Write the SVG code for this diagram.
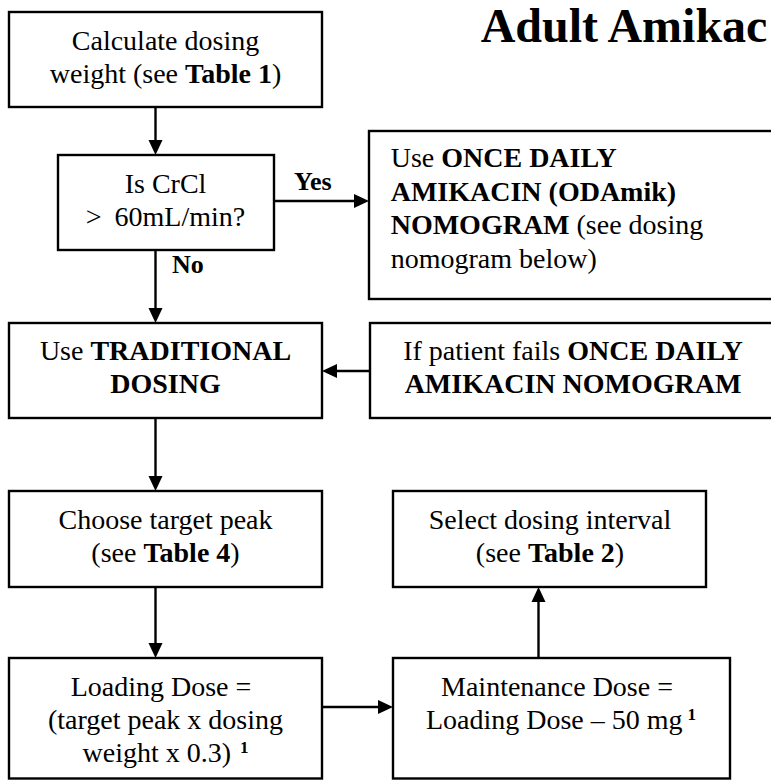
<svg xmlns="http://www.w3.org/2000/svg" width="771" height="780" viewBox="0 0 771 780" font-family="'Liberation Serif', 'Times New Roman', 'DejaVu Serif', serif">
<defs>
<marker id="ah" markerUnits="userSpaceOnUse" markerWidth="16" markerHeight="15" refX="0" refY="7" orient="auto" overflow="visible">
<path d="M0,0 L15,7 L0,14 z" fill="#000"/>
</marker>
<style>
.box{fill:#fff;stroke:#000;stroke-width:2.4}
.t{font-family:"Liberation Serif","Times New Roman",serif;font-size:28px;fill:#000}
.title{font-family:"Liberation Serif","Times New Roman",serif;font-size:48px;font-weight:bold;fill:#000}
.c{text-anchor:middle}
.b{font-weight:bold}
.lbl{font-family:"Liberation Serif","Times New Roman",serif;font-size:26px;font-weight:bold;fill:#000}
.sup{font-size:17px;font-weight:bold}
.conn{fill:none;stroke:#000;stroke-width:2.4;marker-end:url(#ah)}
</style>
</defs>
<rect width="771" height="780" fill="#fff"/>
<text class="title" x="480.7" y="41.7">Adult Amikac</text>
<g id="connectors">
<path class="conn" d="M155.5,107 V140"/>
<path class="conn" d="M274,201 H354"/>
<path class="conn" d="M155.5,250 V308"/>
<path class="conn" d="M370,371 H337"/>
<path class="conn" d="M155.5,418 V476"/>
<path class="conn" d="M155.5,587 V643"/>
<path class="conn" d="M322,707 H378"/>
<path class="conn" d="M538.5,658 V602"/>
<text class="lbl" x="294" y="190">Yes</text>
<text class="lbl" x="172" y="273">No</text>
</g>
<g id="n1">
<rect class="box" x="9" y="12" width="313" height="95"/>
<text class="t c" x="165.5" y="49.5">Calculate dosing</text>
<text class="t c" x="165.5" y="82.5">weight (see <tspan class="b">Table 1</tspan>)</text>
</g>
<g id="n2">
<rect class="box" x="58" y="155" width="216" height="95"/>
<text class="t c" x="165.5" y="192.5">Is CrCl</text>
<text class="t c" x="165.5" y="225.5">&gt; <tspan dx="6">60mL/min?</tspan></text>
</g>
<g id="n3">
<rect class="box" x="369" y="131" width="430" height="168"/>
<text class="t" x="390.7" y="167">Use <tspan class="b">ONCE DAILY</tspan></text>
<text class="t b" x="390.7" y="200.5">AMIKACIN (ODAmik)</text>
<text class="t" x="390.7" y="234"><tspan class="b">NOMOGRAM</tspan> (see dosing</text>
<text class="t" x="390.7" y="267.5">nomogram below)</text>
</g>
<g id="n4">
<rect class="box" x="9" y="323" width="313" height="95"/>
<text class="t c" x="165.5" y="360">Use <tspan class="b">TRADITIONAL</tspan></text>
<text class="t c b" x="165.5" y="393">DOSING</text>
</g>
<g id="n5">
<rect class="box" x="370" y="323" width="430" height="95"/>
<text class="t c" x="573" y="360">If patient fails <tspan class="b">ONCE DAILY</tspan></text>
<text class="t c b" x="573" y="393">AMIKACIN NOMOGRAM</text>
</g>
<g id="n6">
<rect class="box" x="9" y="491" width="313" height="96"/>
<text class="t c" x="165.5" y="529">Choose target peak</text>
<text class="t c" x="165.5" y="562">(see <tspan class="b">Table 4</tspan>)</text>
</g>
<g id="n7">
<rect class="box" x="393" y="491" width="313" height="96"/>
<text class="t c" x="550" y="529">Select dosing interval</text>
<text class="t c" x="550" y="562">(see <tspan class="b">Table 2</tspan>)</text>
</g>
<g id="n8">
<rect class="box" x="9" y="658" width="313" height="120.5"/>
<text class="t c" x="161" y="696">Loading Dose =</text>
<text class="t c" x="165.5" y="729">(target peak x dosing</text>
<text class="t c" x="165.5" y="762">weight x 0.3)<tspan class="sup" dx="9" dy="-9">1</tspan></text>
</g>
<g id="n9">
<rect class="box" x="393" y="658" width="337" height="120.5"/>
<text class="t c" x="557" y="696">Maintenance Dose =</text>
<text class="t c" x="561" y="729">Loading Dose – 50 mg<tspan class="sup" dx="5" dy="-9">1</tspan></text>
</g>
</svg>
